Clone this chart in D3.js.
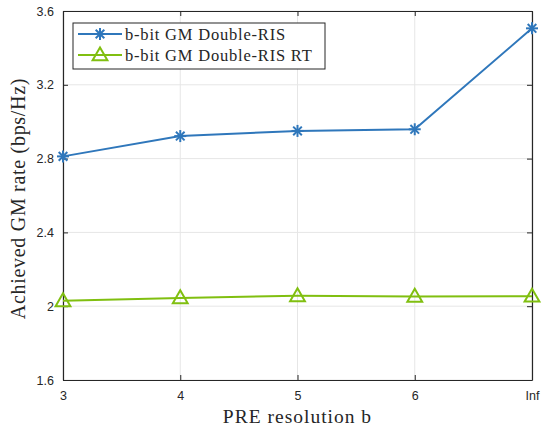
<!DOCTYPE html>
<html>
<head>
<meta charset="utf-8">
<script src="https://cdn.jsdelivr.net/npm/d3@7"></script>
<style>
  body { margin: 0; background: #fff; }
  svg { display: block; }
</style>
</head>
<body>
<svg id="svg" width="542" height="428"></svg>
<script>
// data
var categories = ["3", "4", "5", "6", "Inf"];
var doubleRis = [2.812, 2.922, 2.950, 2.959, 3.506];
var doubleRisRT = [2.029, 2.045, 2.056, 2.053, 2.054];
var yTicks = [1.6, 2, 2.4, 2.8, 3.2, 3.6];
var seriesNames = ["b-bit GM Double-RIS", "b-bit GM Double-RIS RT"];

var svg = d3.select("#svg");
var padding = { top: 11, right: 10, bottom: 48, left: 63 };
var W = 542 - padding.left - padding.right;
var H = 428 - padding.top - padding.bottom;

var blue = "#2f77bb";
var green = "#80bf10";
var axisColor = "#262626";
var serif = "'Liberation Serif', 'Times New Roman', serif";
var sans = "'Liberation Sans', Arial, sans-serif";

var xScale = d3.scalePoint().domain(categories).range([0, W]);
var yScale = d3.scaleLinear().domain([1.6, 3.6]).range([H, 0]);

var g = svg.append("g")
  .attr("transform", "translate(" + padding.left + "," + padding.top + ")");

// grid
g.append("g")
  .selectAll("line")
  .data(categories)
  .enter()
  .append("line")
  .attr("x1", d => xScale(d)).attr("x2", d => xScale(d))
  .attr("y1", 0).attr("y2", H)
  .attr("stroke", "#e6e6e6").attr("stroke-width", 1);
g.append("g")
  .selectAll("line")
  .data(yTicks)
  .enter()
  .append("line")
  .attr("y1", d => yScale(d)).attr("y2", d => yScale(d))
  .attr("x1", 0).attr("x2", W)
  .attr("stroke", "#e6e6e6").attr("stroke-width", 1);

// axes (ticks pointing inward, box on all four sides)
function styleAxis(sel) {
  sel.select(".domain").attr("stroke", axisColor).attr("stroke-width", 1.2);
  sel.selectAll(".tick line").attr("stroke", axisColor);
  sel.selectAll(".tick text")
    .attr("fill", axisColor)
    .style("font-family", sans)
    .style("font-size", "12.5px");
}

var xAxis = g.append("g")
  .attr("transform", "translate(0," + H + ")")
  .call(d3.axisBottom(xScale).tickSizeInner(-5).tickSizeOuter(0).tickPadding(11));
styleAxis(xAxis);

var yAxis = g.append("g")
  .call(d3.axisLeft(yScale).tickValues(yTicks).tickFormat(d3.format("")).tickSizeInner(-5).tickSizeOuter(0).tickPadding(9));
styleAxis(yAxis);

var xTop = g.append("g")
  .call(d3.axisTop(xScale).tickSizeInner(-5).tickSizeOuter(0).tickFormat(""));
styleAxis(xTop);

var yRight = g.append("g")
  .attr("transform", "translate(" + W + ",0)")
  .call(d3.axisRight(yScale).tickValues(yTicks).tickSizeInner(-5).tickSizeOuter(0).tickFormat(""));
styleAxis(yRight);

// lines
var line = d3.line()
  .x((d, i) => xScale(categories[i]))
  .y(d => yScale(d));

g.append("path")
  .datum(doubleRis)
  .attr("d", line)
  .attr("fill", "none")
  .attr("stroke", blue)
  .attr("stroke-width", 2);

g.append("path")
  .datum(doubleRisRT)
  .attr("d", line)
  .attr("fill", "none")
  .attr("stroke", green)
  .attr("stroke-width", 2);

// markers
function star(sel, color) {
  var r = 6;
  sel.append("line").attr("x1", -r).attr("x2", r).attr("y1", 0).attr("y2", 0);
  sel.append("line").attr("x1", 0).attr("x2", 0).attr("y1", -r).attr("y2", r);
  var k = r * 0.72;
  sel.append("line").attr("x1", -k).attr("x2", k).attr("y1", -k).attr("y2", k);
  sel.append("line").attr("x1", -k).attr("x2", k).attr("y1", k).attr("y2", -k);
  sel.selectAll("line").attr("stroke", color).attr("stroke-width", 2);
}
function triangle(sel, color) {
  sel.append("path")
    .attr("d", d3.symbol().type(d3.symbolTriangle).size(95)())
    .attr("transform", "translate(0,1)")
    .attr("fill", "none")
    .attr("stroke", color)
    .attr("stroke-width", 2);
}

g.selectAll(".star")
  .data(doubleRis)
  .enter()
  .append("g")
  .attr("class", "star")
  .attr("transform", (d, i) => "translate(" + xScale(categories[i]) + "," + yScale(d) + ")")
  .each(function () { star(d3.select(this), blue); });

g.selectAll(".tri")
  .data(doubleRisRT)
  .enter()
  .append("g")
  .attr("class", "tri")
  .attr("transform", (d, i) => "translate(" + xScale(categories[i]) + "," + yScale(d) + ")")
  .each(function () { triangle(d3.select(this), green); });

// axis labels
svg.append("text")
  .attr("x", padding.left + W / 2)
  .attr("y", 423)
  .attr("text-anchor", "middle")
  .attr("fill", axisColor)
  .style("font-family", serif)
  .style("font-size", "19.5px")
  .style("letter-spacing", "1px")
  .text("PRE resolution b");

svg.append("text")
  .attr("transform", "translate(25," + (padding.top + H / 2 + 3) + ") rotate(-90)")
  .attr("text-anchor", "middle")
  .attr("fill", axisColor)
  .style("font-family", serif)
  .style("font-size", "20px")
  .style("letter-spacing", "0.7px")
  .text("Achieved GM rate (bps/Hz)");

// legend
var legend = svg.append("g").attr("transform", "translate(73,23)");
legend.append("rect")
  .attr("width", 252).attr("height", 46)
  .attr("fill", "#fff")
  .attr("stroke", axisColor).attr("stroke-width", 1);

var colors = [blue, green];
seriesNames.forEach(function (name, i) {
  var row = legend.append("g").attr("transform", "translate(0," + (11 + i * 21) + ")");
  row.append("line")
    .attr("x1", 5).attr("x2", 49)
    .attr("stroke", colors[i]).attr("stroke-width", 2);
  var m = row.append("g").attr("transform", "translate(27,0)");
  if (i === 0) star(m, blue); else triangle(m, green);
  row.append("text")
    .attr("x", 52).attr("y", 5.5)
    .attr("fill", axisColor)
    .style("font-family", serif)
    .style("font-size", "16.5px")
    .style("letter-spacing", "0.8px")
    .text(name);
});
</script>
</body>
</html>
